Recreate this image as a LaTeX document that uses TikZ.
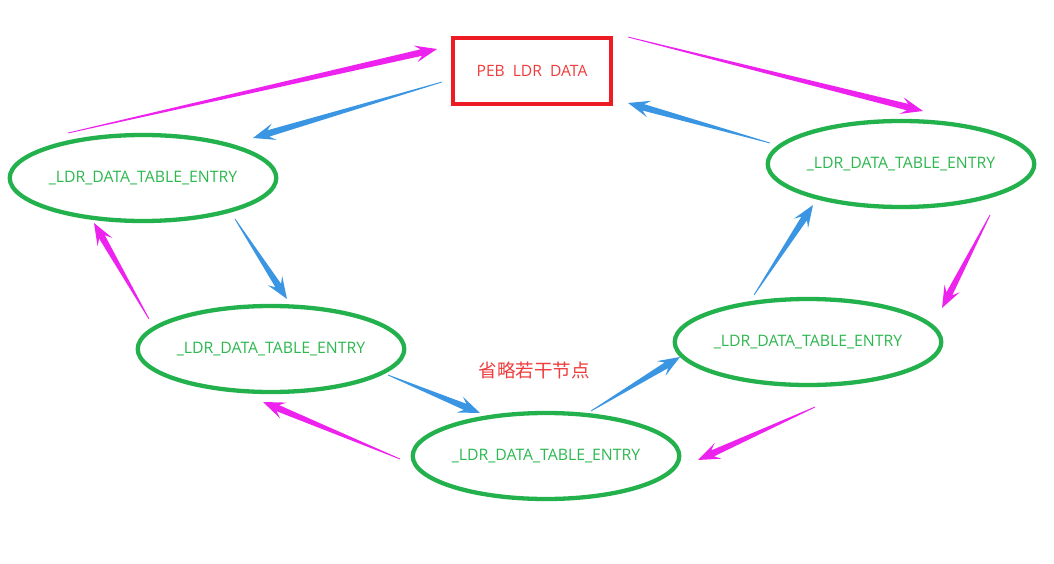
\documentclass[tikz,border=0pt]{standalone}
\usepackage{fontspec}
\setmainfont{Open Sans}
\newfontfamily\cjk{Noto Sans CJK SC}
\usetikzlibrary{shapes.geometric,calc}
\definecolor{egreen}{HTML}{22B14C}
\definecolor{tgreen}{HTML}{2DB84F}
\definecolor{amag}{HTML}{EE22EE}
\definecolor{ablue}{HTML}{3A96E3}
\definecolor{bred}{HTML}{ED1C24}
\definecolor{tred}{HTML}{F03C3C}
\tikzset{
  entry/.style={ellipse, draw=egreen, line width=4.3pt, minimum width=264pt, minimum height=86pt,
    inner sep=0pt, text=tgreen, font=\fontsize{15.8}{18}\selectfont},
  pebbox/.style={rectangle, draw=bred, line width=3.5pt, minimum width=158pt, minimum height=66pt,
    text=tred, font=\fontsize{15.6}{18}\selectfont},
}
\newcommand\tapered[3]{%
  \coordinate (TT) at (#2);
  \coordinate (TS) at (#1);
  \coordinate (TB) at ($(TT)!22pt!(TS)$);
  \coordinate (TN) at ($(TT)!16pt!(TS)$);
  \fill[#3] (TT) -- ($(TB)!8.5pt!90:(TT)$) -- ($(TN)!3.3pt!90:(TT)$) -- ($(TS)!0.4pt!90:(TT)$)
    -- ($(TS)!0.4pt!-90:(TT)$) -- ($(TN)!3.3pt!-90:(TT)$) -- ($(TB)!8.5pt!-90:(TT)$) -- cycle;
}
\begin{document}
\begin{tikzpicture}[x=1pt,y=-1pt]
\useasboundingbox (0,0) rectangle (1054,564);
\fill[white] (0,0) rectangle (1054,564);
% nodes
\node[pebbox] (peb) at (532,71) {PEB\ \ LDR\ \ DATA};
\node[entry] (e1) at (143,178) {\raisebox{2pt}{\_LDR\_DATA\_TABLE\_ENTRY}};
\node[entry] (e2) at (271,349) {\raisebox{2pt}{\_LDR\_DATA\_TABLE\_ENTRY}};
\node[entry] (e3) at (546,456) {\raisebox{2pt}{\_LDR\_DATA\_TABLE\_ENTRY}};
\node[entry] (e4) at (808,342) {\raisebox{2pt}{\_LDR\_DATA\_TABLE\_ENTRY}};
\node[entry] (e5) at (901,164) {\raisebox{2pt}{\_LDR\_DATA\_TABLE\_ENTRY}};
\node[text=tred, font=\cjk\fontsize{18.5}{20}\selectfont] (skip) at (534,370) {省略若干节点};
% arrow end points
\coordinate (a1s) at (68,133);  \coordinate (a1t) at (437,49);
\coordinate (a2s) at (442,82);  \coordinate (a2t) at (253,138);
\coordinate (a3s) at (628,37);  \coordinate (a3t) at (923,111);
\coordinate (a4s) at (770,143); \coordinate (a4t) at (628,103);
\coordinate (a5s) at (149,319); \coordinate (a5t) at (94,223);
\coordinate (a6s) at (235,219); \coordinate (a6t) at (287,299);
\coordinate (a7s) at (400,459); \coordinate (a7t) at (263,402);
\coordinate (a8s) at (388,375); \coordinate (a8t) at (480,413);
\coordinate (a9s) at (591,411); \coordinate (a9t) at (680,357);
\coordinate (a10s) at (754,295); \coordinate (a10t) at (813,205);
\coordinate (a11s) at (990,215); \coordinate (a11t) at (942,308);
\coordinate (a12s) at (815,407); \coordinate (a12t) at (698,460);
\tapered{a1s}{a1t}{amag}
\tapered{a2s}{a2t}{ablue}
\tapered{a3s}{a3t}{amag}
\tapered{a4s}{a4t}{ablue}
\tapered{a5s}{a5t}{amag}
\tapered{a6s}{a6t}{ablue}
\tapered{a7s}{a7t}{amag}
\tapered{a8s}{a8t}{ablue}
\tapered{a9s}{a9t}{ablue}
\tapered{a10s}{a10t}{ablue}
\tapered{a11s}{a11t}{amag}
\tapered{a12s}{a12t}{amag}
\end{tikzpicture}
\end{document}
